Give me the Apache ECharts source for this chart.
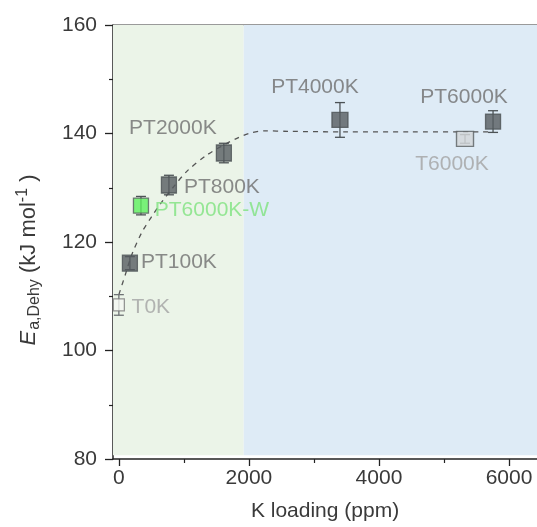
<!DOCTYPE html>
<html>
<head>
<meta charset="utf-8">
<script src="https://cdn.jsdelivr.net/npm/echarts@6/dist/echarts.min.js"></script>
<style>
  html, body { margin: 0; padding: 0; background: #fff; }
  #chart { width: 537px; height: 527px; }
</style>
</head>
<body>
<div id="chart"></div>
<script>
// ------------------------------ data ------------------------------ //
var sampleNames = ["T0K", "PT100K", "PT6000K-W", "PT800K", "PT2000K", "PT4000K", "T6000K", "PT6000K"];
var kLoading = [0, 170, 340, 770, 1615, 3400, 5323, 5754];
var eaDehy = [108.4, 116.1, 126.7, 130.5, 136.4, 142.5, 139.0, 142.2];
var eaError = [1.9, 1.2, 1.7, 1.8, 1.8, 3.2, 0.8, 2.0];

// dashed guide curve
var fitLoading = [0, 100, 200, 350, 500, 650, 850, 1060, 1350, 1600, 1815, 2000, 2250, 2600, 3500, 4500, 5750];
var fitEa = [110.3, 114.0, 117.7, 121.7, 124.6, 127.2, 130.3, 133.2, 136.0, 137.8, 139.1, 140.0, 140.5, 140.4, 140.3, 140.3, 140.3];

var xTickValues = [0, 2000, 4000, 6000];
var xMinorTickValues = [1000, 3000, 5000];
var xRange = [-90, 6430];
var yRange = [80, 160];
var regionSplit = 1920;

// ------------------------------ styles ------------------------------ //
var FONT = "Liberation Sans, Arial, sans-serif";
var DARK = "#565d60";
var PT_LABEL = "#6e6e6e";
var T_LABEL = "#a3a3a3";
var AXIS_TEXT = "#3a3a3a";

// per sample: [fill, border, size, label colour, label offset]
var pointStyle = {
  "T0K": ["#f5f8f2", "#7a7a7a", [11, 12], T_LABEL, [32, 2]],
  "PT100K": [DARK, "#4c5255", [15, 16], PT_LABEL, [49, -1]],
  "PT6000K-W": ["#5cf05c", "#555b5e", [15, 15], "#7ee27e", [71, 5]],
  "PT800K": [DARK, "#4c5255", [15, 16], PT_LABEL, [53, 2]],
  "PT2000K": [DARK, "#4c5255", [15, 16], PT_LABEL, [-51, -25]],
  "PT4000K": [DARK, "#4c5255", [16, 15], PT_LABEL, [-25, -33]],
  "T6000K": ["#d2d6d8", "#5a5f62", [17, 15], T_LABEL, [-13, 25]],
  "PT6000K": [DARK, "#4c5255", [15, 15], PT_LABEL, [-29, -24]]
};

var dom = document.getElementById("chart");
var myChart = echarts.init(dom, null, { renderer: "canvas" });

var pointData = sampleNames.map(function (name, i) {
  var s = pointStyle[name];
  return {
    name: name,
    value: [kLoading[i], eaDehy[i]],
    symbolSize: s[2],
    itemStyle: { color: s[0], borderColor: s[1], borderWidth: 1.3 },
    label: { color: s[3], offset: s[4] }
  };
});

var errorData = sampleNames.map(function (name, i) {
  return [kLoading[i], eaDehy[i], eaError[i], name.charAt(0) === "T" ? 1 : 0];
});

var fitData = fitLoading.map(function (x, i) {
  return [x, fitEa[i]];
});

function renderErrorBar(params, api) {
  var x = api.value(0);
  var y = api.value(1);
  var e = api.value(2);
  var colour = api.value(3) ? "#6e7275" : "#4c5255";
  var top = api.coord([x, y + e]);
  var bot = api.coord([x, y - e]);
  var half = 5;
  var st = { stroke: colour, lineWidth: 1.3 };
  return {
    type: "group",
    children: [
      { type: "line", shape: { x1: top[0], y1: top[1], x2: bot[0], y2: bot[1] }, style: st },
      { type: "line", shape: { x1: top[0] - half, y1: top[1], x2: top[0] + half, y2: top[1] }, style: st },
      { type: "line", shape: { x1: bot[0] - half, y1: bot[1], x2: bot[0] + half, y2: bot[1] }, style: st }
    ]
  };
}

var option = {
  animation: false,
  backgroundColor: "#fff",
  textStyle: { fontFamily: FONT },
  grid: { left: 113, right: -2, top: 25, bottom: 66 },
  xAxis: [
    {
      type: "value",
      position: "bottom",
      min: xRange[0],
      max: xRange[1],
      name: "K loading (ppm)",
      nameLocation: "middle",
      nameGap: 42,
      nameTextStyle: { fontSize: 21, color: AXIS_TEXT, fontFamily: FONT },
      axisLine: { onZero: false, lineStyle: { color: "#222", width: 1.5 } },
      axisTick: { show: true, inside: false, length: 7, customValues: xTickValues, lineStyle: { color: "#222", width: 1.3 } },
      axisLabel: {
        customValues: xTickValues,
        fontSize: 21,
        color: AXIS_TEXT,
        margin: 9,
        fontFamily: FONT,
        formatter: function (v) { return String(v); }
      },
      splitLine: { show: false }
    },
    {
      type: "value",
      position: "bottom",
      min: xRange[0],
      max: xRange[1],
      axisLine: { show: false, onZero: false },
      axisTick: { show: true, inside: false, length: 4, customValues: xMinorTickValues, lineStyle: { color: "#222", width: 1.2 } },
      axisLabel: { show: false },
      splitLine: { show: false }
    },
    {
      type: "value",
      position: "top",
      min: xRange[0],
      max: xRange[1],
      axisLine: { show: true, onZero: false, lineStyle: { color: "#7a7a7a", width: 1.5 } },
      axisTick: { show: false },
      axisLabel: { show: false },
      splitLine: { show: false }
    }
  ],
  yAxis: {
    type: "value",
    min: yRange[0],
    max: yRange[1],
    interval: 20,
    name: "{it|E}{sub|a,Dehy}{n| (kJ mol}{sup|-1}{n| )}{pad|}",
    nameLocation: "middle",
    nameGap: 70,
    nameRotate: 90,
    nameTextStyle: {
      fontFamily: FONT,
      color: AXIS_TEXT,
      rich: {
        it: { fontSize: 22, fontStyle: "italic", color: AXIS_TEXT, fontFamily: FONT },
        n: { fontSize: 22, color: AXIS_TEXT, fontFamily: FONT },
        sub: { fontSize: 16, color: AXIS_TEXT, fontFamily: FONT, verticalAlign: "bottom", padding: [12, 0, 0, 1] },
        sup: { fontSize: 16, color: AXIS_TEXT, fontFamily: FONT, verticalAlign: "top", padding: [0, 0, 10, 0] },
        pad: { width: 36 }
      }
    },
    axisLine: { show: true, onZero: false, lineStyle: { color: "#222", width: 1.5 } },
    axisTick: { show: true, inside: false, length: 8, lineStyle: { color: "#222", width: 1.3 } },
    minorTick: { show: true, splitNumber: 2, length: 4, lineStyle: { color: "#222", width: 1.2 } },
    axisLabel: { fontSize: 21, color: AXIS_TEXT, margin: 16, fontFamily: FONT },
    splitLine: { show: false },
    minorSplitLine: { show: false }
  },
  graphic: [
    {
      type: "text",
      left: 122,
      top: 33,
      style: { text: "(c)", fontSize: 21, fill: "#666", fontFamily: FONT }
    }
  ],
  series: [
    {
      type: "line",
      name: "fit",
      data: fitData,
      smooth: 0.3,
      showSymbol: false,
      symbol: "none",
      z: 2,
      lineStyle: { color: "#555", width: 1.3, type: [5, 5] },
      markArea: {
        silent: true,
        data: [
          [
            { xAxis: xRange[0], yAxis: 80.7, itemStyle: { color: "#ebf4e8" } },
            { xAxis: regionSplit, yAxis: yRange[1] }
          ],
          [
            { xAxis: regionSplit, yAxis: 80.7, itemStyle: { color: "#deebf6" } },
            { xAxis: xRange[1], yAxis: yRange[1] }
          ]
        ]
      }
    },
    {
      type: "custom",
      name: "error",
      renderItem: renderErrorBar,
      data: errorData,
      z: 3
    },
    {
      type: "scatter",
      name: "samples",
      symbol: "rect",
      data: pointData,
      z: 4,
      label: {
        show: true,
        position: "inside",
        formatter: "{b}",
        fontSize: 21,
        fontFamily: FONT
      }
    }
  ]
};

myChart.setOption(option);
window.addEventListener("resize", myChart.resize);
</script>
</body>
</html>
